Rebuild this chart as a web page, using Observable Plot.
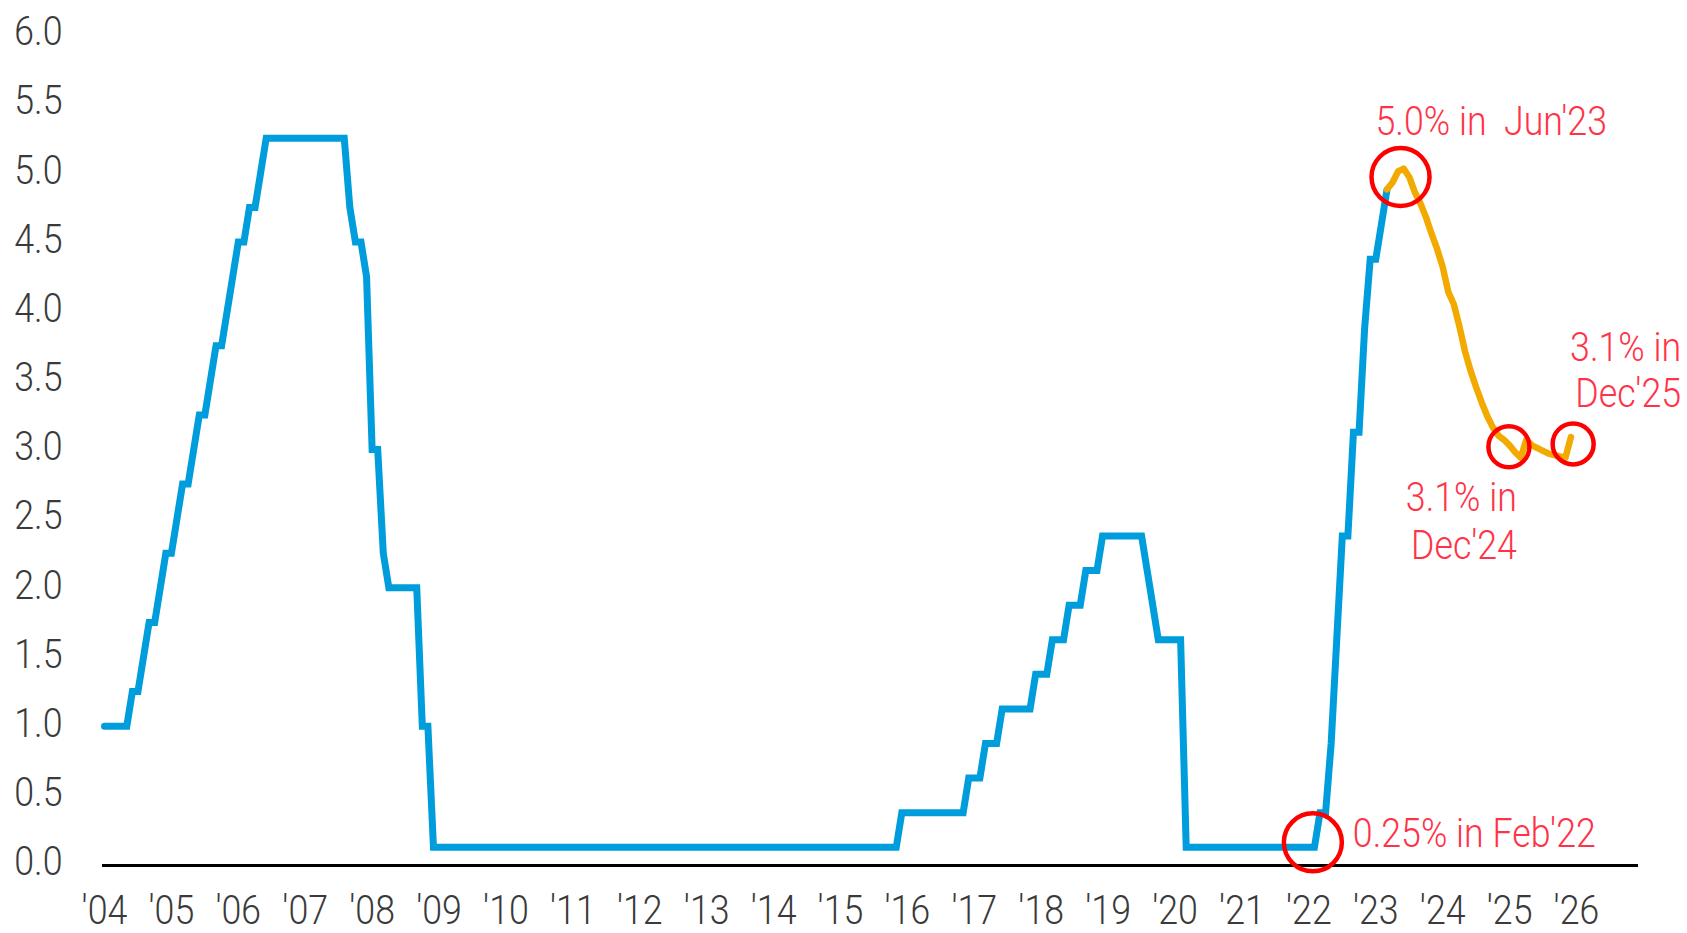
<!DOCTYPE html>
<html><head><meta charset="utf-8">
<script src="https://cdn.jsdelivr.net/npm/d3@7"></script>
<script src="https://cdn.jsdelivr.net/npm/@observablehq/plot@0.6"></script>
<style>
html,body{margin:0;padding:0;background:#fff;}
#chart svg{display:block;}
</style></head><body><div id="chart"></div>
<script>
// ---- data ----
const startYear = 2004; // first month of the policy-rate series: Jan 2004
// Policy rate (%), end of month, Jan 2004 – Mar 2023
const rate2004 = [1.00,1.00,1.00,1.00,1.00,1.25,1.25,1.50,1.75,1.75,2.00,2.25];
const rate2005 = [2.25,2.50,2.75,2.75,3.00,3.25,3.25,3.50,3.75,3.75,4.00,4.25];
const rate2006 = [4.50,4.50,4.75,4.75,5.00,5.25,5.25,5.25,5.25,5.25,5.25,5.25];
const rate2007 = [5.25,5.25,5.25,5.25,5.25,5.25,5.25,5.25,4.75,4.50,4.50,4.25];
const rate2008 = [3.00,3.00,2.25,2.00,2.00,2.00,2.00,2.00,2.00,1.00,1.00,0.125];
const rate2009 = [0.125,0.125,0.125,0.125,0.125,0.125,0.125,0.125,0.125,0.125,0.125,0.125];
const rate2010 = [0.125,0.125,0.125,0.125,0.125,0.125,0.125,0.125,0.125,0.125,0.125,0.125];
const rate2011 = [0.125,0.125,0.125,0.125,0.125,0.125,0.125,0.125,0.125,0.125,0.125,0.125];
const rate2012 = [0.125,0.125,0.125,0.125,0.125,0.125,0.125,0.125,0.125,0.125,0.125,0.125];
const rate2013 = [0.125,0.125,0.125,0.125,0.125,0.125,0.125,0.125,0.125,0.125,0.125,0.125];
const rate2014 = [0.125,0.125,0.125,0.125,0.125,0.125,0.125,0.125,0.125,0.125,0.125,0.125];
const rate2015 = [0.125,0.125,0.125,0.125,0.125,0.125,0.125,0.125,0.125,0.125,0.125,0.375];
const rate2016 = [0.375,0.375,0.375,0.375,0.375,0.375,0.375,0.375,0.375,0.375,0.375,0.625];
const rate2017 = [0.625,0.625,0.875,0.875,0.875,1.125,1.125,1.125,1.125,1.125,1.125,1.375];
const rate2018 = [1.375,1.375,1.625,1.625,1.625,1.875,1.875,1.875,2.125,2.125,2.125,2.375];
const rate2019 = [2.375,2.375,2.375,2.375,2.375,2.375,2.375,2.125,1.875,1.625,1.625,1.625];
const rate2020 = [1.625,1.625,0.125,0.125,0.125,0.125,0.125,0.125,0.125,0.125,0.125,0.125];
const rate2021 = [0.125,0.125,0.125,0.125,0.125,0.125,0.125,0.125,0.125,0.125,0.125,0.125];
const rate2022 = [0.125,0.125,0.375,0.375,0.875,1.625,2.375,2.375,3.125,3.125,3.875,4.375];
const rate2023 = [4.375,4.625,4.875];

// Projected path (%), monthly, Mar 2023 – Dec 2025
const projStartYear = 2023, projStartMonth = 3;
const projection = [
  4.88,4.93,5.01,5.03,4.97,4.86,4.78,4.68,4.56,4.45,            // Mar–Dec 2023
  4.32,4.14,4.05,3.89,3.71,3.57,3.45,3.34,3.24,3.16,3.10,3.07,  // 2024
  3.03,2.98,2.94,3.07,3.03,3.01,2.99,2.97,2.96,2.95,2.94,3.09   // 2025
];

// Axis ticks
const yearTicks = [2004,2005,2006,2007,2008,2009,2010,2011,2012,2013,2014,2015,2016,2017,2018,2019,2020,2021,2022,2023,2024,2025,2026];
const yearLabels = ["'04","'05","'06","'07","'08","'09","'10","'11","'12","'13","'14","'15","'16","'17","'18","'19","'20","'21","'22","'23","'24","'25","'26"];
const rateTicks = [0,0.5,1,1.5,2,2.5,3,3.5,4,4.5,5,5.5,6];
const rateTickLabels = ["0.0","0.5","1.0","1.5","2.0","2.5","3.0","3.5","4.0","4.5","5.0","5.5","6.0"];

// Highlighted points (decimal year, %) and their notes
const noteText  = ["0.25% in Feb'22", "5.0% in\u00a0 Jun'23", "3.1% in\nDec'24", "3.1% in\nDec'25"];
const noteYear  = [2022.06, 2023.37, 2024.99, 2025.95];
const noteValue = [0.16, 4.97, 3.02, 3.04];

// ---- build tables ----
const history = [rate2004,rate2005,rate2006,rate2007,rate2008,rate2009,rate2010,rate2011,rate2012,
  rate2013,rate2014,rate2015,rate2016,rate2017,rate2018,rate2019,rate2020,rate2021,rate2022,rate2023]
  .flatMap((arr, yi) => arr.map((v, m) => ({t: startYear + yi + m / 12, v})));
const proj = projection.map((v, i) => ({t: projStartYear + (projStartMonth - 1 + i) / 12, v}));
const notes = noteText.map((text, i) => ({text, t: noteYear[i], v: noteValue[i], i}));

const FONT = "Roboto, 'DejaVu Sans Condensed', 'Liberation Sans', sans-serif";
const RED_TXT = "#ff3347";

const chart = Plot.plot({
  width: 1687,
  height: 933,
  marginLeft: 102,
  marginRight: 49,
  marginTop: 34,
  marginBottom: 69,
  style: {fontFamily: FONT, fontSize: "40px", fontWeight: 300, color: "#3a3a3a", background: "#fff"},
  x: {domain: [2004 - 2 / 66.9, 2026 + 62 / 66.9]},
  y: {domain: [0, 6]},
  marks: [
    Plot.axisX({ticks: yearTicks, tickFormat: d => yearLabels[yearTicks.indexOf(d)], tickSize: 0, tickPadding: 31, fontSize: 40, label: null}),
    Plot.axisY({ticks: rateTicks, tickFormat: d => rateTickLabels[rateTicks.indexOf(d)], tickSize: 0, tickPadding: 40, fontSize: 40, dy: -2, label: null}),
    Plot.ruleY([0], {stroke: "#000", strokeWidth: 3, dy: 1}),
    Plot.line(history, {x: "t", y: "v", stroke: "#009ddc", strokeWidth: 7, strokeLinejoin: "miter", strokeMiterlimit: 3}),
    Plot.line(proj, {x: "t", y: "v", stroke: "#f2a900", strokeWidth: 6.5, strokeLinejoin: "round"}),
    Plot.dot(notes.filter(d => d.i < 2), {x: "t", y: "v", r: 29, stroke: "#ff0000", strokeWidth: 4.5, fill: "none"}),
    Plot.dot(notes.filter(d => d.i >= 2), {x: "t", y: "v", r: 20.5, stroke: "#ff0000", strokeWidth: 4.5, fill: "none"}),
    Plot.text(notes.filter(d => d.i === 0), {x: "t", y: "v", text: "text", textAnchor: "start", dx: 40, dy: -8, fill: RED_TXT, fontSize: 40}),
    Plot.text(notes.filter(d => d.i === 1), {x: "t", y: "v", text: "text", textAnchor: "start", dx: -25, dy: -55, fill: RED_TXT, fontSize: 40}),
    Plot.text(notes.filter(d => d.i === 2), {x: "t", y: "v", text: "text", textAnchor: "end", dx: 8, dy: 73, lineHeight: 1.2, fill: RED_TXT, fontSize: 40}),
    Plot.text(notes.filter(d => d.i === 3), {x: "t", y: "v", text: "text", textAnchor: "end", dx: 108, dy: -75, lineHeight: 1.15, fill: RED_TXT, fontSize: 40})
  ]
});
document.getElementById("chart").appendChild(chart);

// The reference uses a narrow typeface: compress all texts horizontally (about their
// own anchor) so that "0.25% in Feb'22" at 40px spans about 243px, as in the reference.
(function narrow() {
  const probe = document.createElementNS("http://www.w3.org/2000/svg", "text");
  probe.setAttribute("font-size", "40");
  probe.textContent = noteText[0];
  chart.appendChild(probe);
  const len = probe.getComputedTextLength();
  probe.remove();
  const sx = len > 0 ? Math.min(1, 243 / len) : 1;
  chart.querySelectorAll("text").forEach(t => {
    const tr = t.getAttribute("transform") || "";
    const xa = t.getAttribute("x");
    const x = xa && !/[a-z%]/i.test(xa) ? +xa : 0;
    if (xa && !/[a-z%]/i.test(xa)) t.removeAttribute("x");
    t.setAttribute("transform", `${tr} translate(${x},0) scale(${sx},1)`);
  });
})();
</script>
</body></html>
